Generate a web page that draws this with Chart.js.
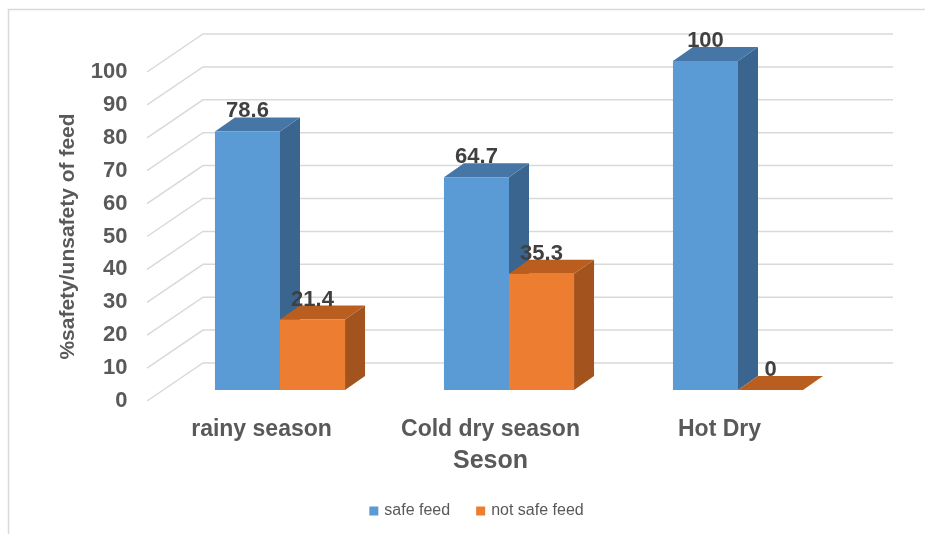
<!DOCTYPE html>
<html>
<head>
<meta charset="utf-8">
<title>Feed safety by season</title>
<script src="https://cdn.jsdelivr.net/npm/chart.js@4.4.1/dist/chart.umd.min.js"></script>
<style>
  html, body { margin: 0; padding: 0; background: #ffffff; }
  canvas { display: block; }
</style>
</head>
<body>
<canvas id="chart" width="925" height="534"></canvas>
<script>
// Season categories and the share of safe / unsafe feed in each (%)
const categories = ['rainy season', 'Cold dry season', 'Hot Dry'];
const safeFeed = [78.6, 64.7, 100];
const notSafeFeed = [21.4, 35.3, 0];
const seriesNames = ['safe feed', 'not safe feed'];
const yMin = 0;
const yMax = 100;
const yStep = 10;

// Face colours for the 3D blocks: front, side, top
const palette = [
  { front: '#5B9BD5', side: '#3A658E', top: '#4676A6' },
  { front: '#ED7D31', side: '#A3531E', top: '#BA5E20' }
];

const TEXT_GREY = '#595959';
const LABEL_DARK = '#404040';
const GRID_GREY = '#D9D9D9';
const FONT = '"Liberation Sans", Arial, sans-serif';

// Depth of each block and of the floor/wall box, in pixels
const BAR_DX = 20, BAR_DY = -14;
const WALL_BACK_DX = 37.5, WALL_BACK_DY = -27;   // back wall relative to bar plane
const WALL_FRONT_DX = -18.5, WALL_FRONT_DY = 11; // front edge relative to bar plane
const WALL_RIGHT_EXTRA = 40.5;

const depthPlugin = {
  id: 'depth3d',
  beforeDraw(chart) {
    const ctx = chart.ctx;
    ctx.save();
    ctx.strokeStyle = GRID_GREY;
    ctx.lineWidth = 1.5;
    ctx.beginPath();
    ctx.moveTo(8.5, chart.height);
    ctx.lineTo(8.5, 9.5);
    ctx.lineTo(chart.width, 9.5);
    ctx.stroke();
    ctx.restore();
  },
  beforeDatasetsDraw(chart) {
    const ctx = chart.ctx;
    const area = chart.chartArea;
    const y = chart.scales.y;
    ctx.save();
    // back wall gridlines and the slanted side-wall lines
    ctx.strokeStyle = GRID_GREY;
    ctx.lineWidth = 1.5;
    for (let v = yMin; v <= yMax; v += yStep) {
      const py = y.getPixelForValue(v);
      ctx.beginPath();
      ctx.moveTo(area.left + WALL_FRONT_DX, py + WALL_FRONT_DY);
      ctx.lineTo(area.left + WALL_BACK_DX, py + WALL_BACK_DY);
      ctx.lineTo(area.right + WALL_RIGHT_EXTRA, py + WALL_BACK_DY);
      ctx.stroke();
    }
    // side and top faces of every block, left to right
    const metas = chart.data.datasets.map((d, i) => chart.getDatasetMeta(i));
    for (let c = 0; c < categories.length; c++) {
      metas.forEach((meta, di) => {
        const bar = meta.data[c];
        if (!bar) return;
        const { x, y: top, base, width } = bar.getProps(['x', 'y', 'base', 'width'], true);
        const x1 = x - width / 2, x2 = x + width / 2;
        const col = palette[di];
        // right side
        ctx.fillStyle = col.side;
        ctx.beginPath();
        ctx.moveTo(x2, top);
        ctx.lineTo(x2 + BAR_DX, top + BAR_DY);
        ctx.lineTo(x2 + BAR_DX, base + BAR_DY);
        ctx.lineTo(x2, base);
        ctx.closePath();
        ctx.fill();
        // top
        ctx.fillStyle = col.top;
        ctx.beginPath();
        ctx.moveTo(x1, top);
        ctx.lineTo(x2, top);
        ctx.lineTo(x2 + BAR_DX, top + BAR_DY);
        ctx.lineTo(x1 + BAR_DX, top + BAR_DY);
        ctx.closePath();
        ctx.fill();
      });
    }
    ctx.restore();
  },
  afterDatasetsDraw(chart) {
    const ctx = chart.ctx;
    ctx.save();
    ctx.font = 'bold 22px ' + FONT;
    ctx.fillStyle = LABEL_DARK;
    ctx.textAlign = 'center';
    ctx.textBaseline = 'middle';
    chart.data.datasets.forEach((ds, di) => {
      const meta = chart.getDatasetMeta(di);
      meta.data.forEach((bar, i) => {
        const { x, y } = bar.getProps(['x', 'y'], true);
        ctx.fillText(String(ds.data[i]), x, y - 20);
      });
    });
    ctx.restore();
  },
  afterDraw(chart) {
    const ctx = chart.ctx;
    const area = chart.chartArea;
    const midX = (area.left + area.right) / 2 + WALL_FRONT_DX;

    // value axis title, on the front plane
    ctx.save();
    ctx.fillStyle = TEXT_GREY;
    ctx.textAlign = 'center';
    ctx.textBaseline = 'middle';
    ctx.font = 'bold 21px ' + FONT;
    ctx.translate(area.left - 97.5, (area.top + area.bottom) / 2 + WALL_FRONT_DY);
    ctx.rotate(-Math.PI / 2);
    ctx.fillText('%safety/unsafety of feed', 0, 0);
    ctx.restore();

    // category axis title
    ctx.save();
    ctx.fillStyle = TEXT_GREY;
    ctx.textAlign = 'center';
    ctx.textBaseline = 'middle';
    ctx.font = 'bold 25px ' + FONT;
    ctx.fillText('Seson', midX, area.bottom + 71);
    ctx.restore();

    // legend: small square swatch followed by the series name
    ctx.save();
    ctx.font = '16px ' + FONT;
    ctx.textBaseline = 'middle';
    ctx.textAlign = 'left';
    const box = 9, gapBox = 6, gapItem = 26;
    const widths = seriesNames.map(n => ctx.measureText(n).width);
    const total = widths.reduce((s, w) => s + box + gapBox + w, 0) + gapItem * (seriesNames.length - 1);
    let lx = midX - 14 - total / 2;
    const ly = area.bottom + 121;
    seriesNames.forEach((name, i) => {
      ctx.fillStyle = palette[i].front;
      ctx.fillRect(lx, ly - box / 2, box, box);
      lx += box + gapBox;
      ctx.fillStyle = TEXT_GREY;
      ctx.fillText(name, lx, ly);
      lx += widths[i] + gapItem;
    });
    ctx.restore();
  }
};

new Chart(document.getElementById('chart'), {
  type: 'bar',
  data: {
    labels: categories,
    datasets: [
      { label: seriesNames[0], data: safeFeed, backgroundColor: palette[0].front, borderWidth: 0 },
      { label: seriesNames[1], data: notSafeFeed, backgroundColor: palette[1].front, borderWidth: 0 }
    ]
  },
  options: {
    responsive: false,
    animation: false,
    devicePixelRatio: 1,
    layout: { padding: { left: 10, right: 72.5, top: 61, bottom: 0 } },
    datasets: { bar: { categoryPercentage: 0.568, barPercentage: 1.0 } },
    plugins: {
      legend: { display: false },
      tooltip: { enabled: false }
    },
    scales: {
      x: {
        grid: { display: false },
        border: { display: false },
        ticks: {
          color: TEXT_GREY,
          padding: 18,
          labelOffset: WALL_FRONT_DX,
          font: { family: FONT, size: 23, weight: 'bold' }
        },
        afterFit(scale) { scale.height = 144; }
      },
      y: {
        min: yMin,
        max: yMax,
        grid: { display: false },
        border: { display: false },
        ticks: {
          stepSize: yStep,
          color: TEXT_GREY,
          padding: 30,
          labelOffset: WALL_FRONT_DY,
          font: { family: FONT, size: 22, weight: 'bold' }
        },
        afterFit(scale) { scale.width = 155.5; }
      }
    }
  },
  plugins: [depthPlugin]
});
</script>
</body>
</html>
